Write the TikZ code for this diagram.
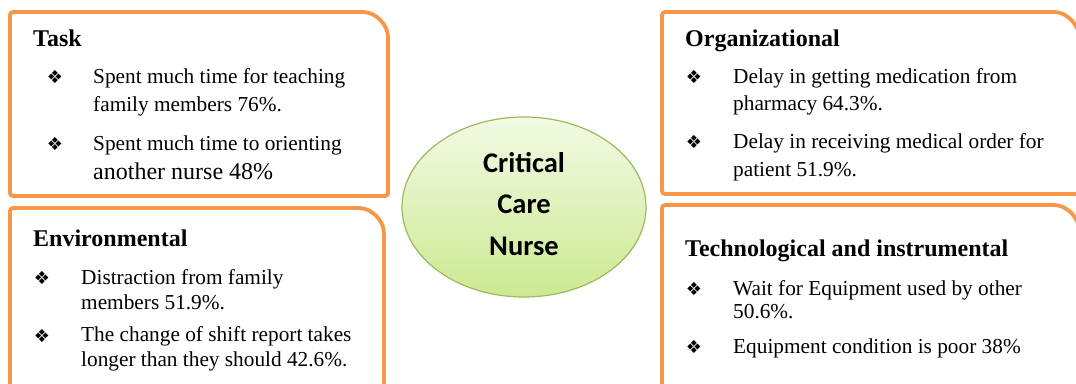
\documentclass[tikz,border=0pt]{standalone}
\usepackage{fontspec}
\usepackage{tikz}
\setmainfont{Liberation Serif}
\newfontfamily\hubfont{Carlito}
\newfontfamily\markfont{DejaVu Sans}
\usetikzlibrary{shapes.geometric,positioning}
\definecolor{frameOrange}{RGB}{247,150,70}
\definecolor{hubTop}{RGB}{242,250,228}
\definecolor{hubBottom}{RGB}{204,233,146}
\definecolor{hubLine}{RGB}{155,187,89}
% frame with one big rounded corner (top right)
\newcommand{\factorframe}[4]{%
  \draw[frame] (#1,#2) -- (#1,#4) -- ({#3-28},#4)
    arc[start angle=90,end angle=0,radius=28pt] -- (#3,#2) -- cycle;
}
% one bulleted cause: [extra], name, mark x, text x, first/last baseline, text
\newcommand{\causeitem}[7][]{%
  \node[causemark] (#2-m) at (#3,#5) {\char"2756};
  \node[causetext,#1] (#2) at (#4,#6) {#7};
}

\begin{document}
\begin{tikzpicture}[x=1pt,y=1pt,
  frame/.style={draw=frameOrange,line width=3.8pt,rounded corners=3pt},
  heading/.style={anchor=base west,inner sep=0,font=\fontsize{24}{28}\selectfont\bfseries},
  causemark/.style={anchor=base,inner sep=0,font=\markfont\fontsize{18}{20}\selectfont},
  causetext/.style={anchor=base west,inner sep=0,align=left,font=\fontsize{21.3}{27}\selectfont},
  hub/.style={ellipse,draw=hubLine,line width=1.2pt,top color=hubTop,bottom color=hubBottom,
    minimum width=244pt,minimum height=180pt,inner sep=0},
  hubtext/.style={inner sep=0,align=center,font=\hubfont\bfseries\fontsize{28.5}{41.5}\selectfont}]
  \useasboundingbox (0,0) rectangle (1076,383);

  % the four groups of causes
  \factorframe{10}{187}{388}{371}
  \factorframe{10}{-10}{384}{175}
  \factorframe{662}{189}{1079}{371}
  \factorframe{662}{-10}{1079}{178}

  % task
  \node[heading] (task) at (33,336) {Task};
  \causeitem[font=\fontsize{21.3}{28}\selectfont]{task1}{55}{93}{299}{271}{Spent much time for teaching\\family members 76\%.}
  \causeitem[font=\fontsize{21.3}{29}\selectfont]{task2}{55}{93}{232}{203}{Spent much time to orienting\\{\fontsize{24}{29}\selectfont another nurse 48\%}}

  % environmental
  \node[heading] (env) at (33,136) {Environmental};
  \causeitem[font=\fontsize{21.3}{25}\selectfont]{env1}{42}{81}{99}{74}{Distraction from family\\members 51.9\%.}
  \causeitem[font=\fontsize{21.3}{25}\selectfont]{env2}{42}{81}{41}{17}{The change of shift report takes\\longer than they should 42.6\%.}

  % organizational
  \node[heading] (org) at (685,336) {Organizational};
  \causeitem{org1}{694}{733}{299}{272}{Delay in getting medication from\\pharmacy 64.3\%.}
  \causeitem[font=\fontsize{21.3}{28}\selectfont]{org2}{694}{733}{234}{206}{Delay in receiving medical order for\\patient 51.9\%.}

  % technological and instrumental
  \node[heading] (tech) at (685,126) {Technological and instrumental};
  \causeitem[font=\fontsize{21.3}{24}\selectfont]{tech1}{694}{733}{88}{64}{Wait for Equipment used by other\\50.6\%.}
  \causeitem{tech2}{694}{733}{30}{30}{Equipment condition is poor 38\%}

  % centre
  \node[hub] (nurse) at (524,176) {};
  \node[hubtext] (nurse-text) at ([yshift=3pt]nurse.center) {Critical\\Care\\Nurse};
\end{tikzpicture}
\end{document}
